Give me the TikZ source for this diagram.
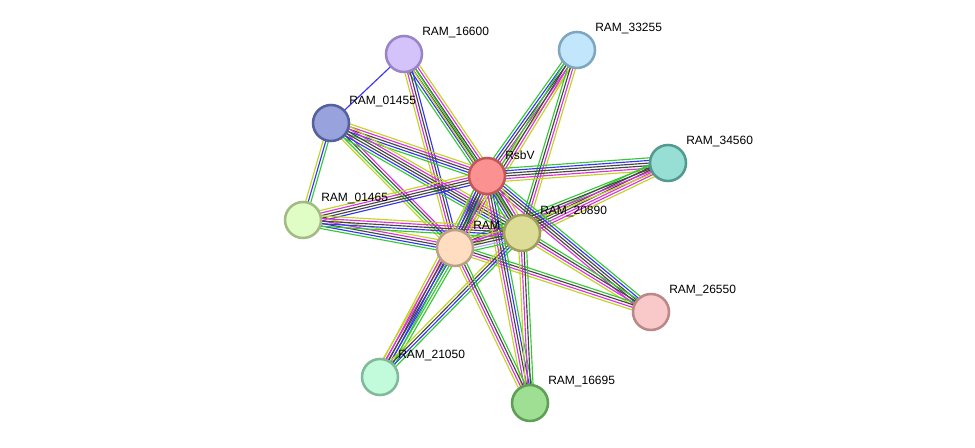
\documentclass[tikz,border=0pt]{standalone}
\usepackage{fontspec}
\setmainfont{Liberation Sans}
\usetikzlibrary{calc}
\pgfdeclarelayer{edges}
\pgfdeclarelayer{labels}
\pgfsetlayers{edges,labels,main}
\definecolor{eg}{HTML}{33C933}
\definecolor{eb}{HTML}{3535F5}
\definecolor{ek}{HTML}{454545}
\definecolor{em}{HTML}{DD30DD}
\definecolor{ey}{HTML}{C2D320}
\definecolor{el}{HTML}{A8A8FF}
\tikzset{
  prot/.style={circle,minimum size=27pt,inner sep=0pt,line width=1.9pt},
  plabel/.style={anchor=west,font=\fontsize{9pt}{10pt}\selectfont,inner sep=0pt,text=black},
  eline/.style={line width=0.85pt}
}
\newcommand\bund[3]{%
  \foreach \c [count=\i] in {#3} {\xdef\nb{\i}}%
  \foreach \c [count=\i] in {#3} {%
    \pgfmathsetmacro\o{(\i-(\nb+1)/2)*1.95}%
    \draw[eline,\c] ($(#1.center)!\o pt!90:(#2.center)$) -- ($(#2.center)!\o pt!-90:(#1.center)$);
  }%
}
\newcommand\prot[5]{% name, x, y, fill, border
  \definecolor{f#1}{HTML}{#4}\definecolor{d#1}{HTML}{#5}%
  \node[prot,fill=f#1,draw=d#1] (#1) at (#2,#3) {};
}
\begin{document}
\begin{tikzpicture}[x=0.75pt,y=-0.75pt]
\useasboundingbox (0,0) rectangle (975,448);
% nodes
\prot{p16600}{404}{54}{D4C2FB}{9A84C8}
\prot{p01455}{331}{123}{98A3DE}{56609C}
\prot{rsbv}{487}{176}{FC9191}{C05858}
\prot{p33255}{577}{50}{C2E6FC}{7FA6BE}
\prot{p34560}{668}{163}{97DFD5}{54998F}
\prot{p01465}{303}{220}{DFFDC4}{A2BB84}
\prot{pc}{455}{248}{FFDDC0}{BBA088}
\prot{p20890}{522}{233}{DEDD98}{A09E5C}
\prot{p26550}{651}{312}{F9C8C8}{BA8888}
\prot{p21050}{380}{377}{C2FBDB}{7FBB98}
\prot{p16695}{530}{403}{9EDF94}{5E9E55}
% labels
\begin{pgfonlayer}{labels}
\node[plabel] (l16600) at ($(p16600.center)+(18,-21)$) {RAM\_16600};
\node[plabel] (l01455) at ($(p01455.center)+(18,-21)$) {RAM\_01455};
\node[plabel] (lrsbv) at ($(rsbv.center)+(18,-21)$) {RsbV};
\node[plabel] (l33255) at ($(p33255.center)+(18,-21)$) {RAM\_33255};
\node[plabel] (l34560) at ($(p34560.center)+(18,-21)$) {RAM\_34560};
\node[plabel] (l01465) at ($(p01465.center)+(18,-21)$) {RAM\_01465};
\node[plabel] (lc) at ($(pc.center)+(18,-21)$) {RAM\_};
\node[plabel] (l20890) at ($(p20890.center)+(18,-21)$) {RAM\_20890};
\node[plabel] (l26550) at ($(p26550.center)+(18,-21)$) {RAM\_26550};
\node[plabel] (l21050) at ($(p21050.center)+(18,-21)$) {RAM\_21050};
\node[plabel] (l16695) at ($(p16695.center)+(18,-21)$) {RAM\_16695};
\end{pgfonlayer}
% edges
\begin{pgfonlayer}{edges}
\bund{p16600}{p01455}{eb}
\bund{p16600}{rsbv}{eg,eb,ek,ek,em,ey}
\bund{p16600}{pc}{ey,em,ek,eb}
\bund{p16600}{p20890}{ey,eg}
\bund{p01455}{rsbv}{eg,eb,ek,em,ey}
\bund{p01455}{pc}{ey,eg,ek,em}
\bund{p01455}{p20890}{eg,eb,ek,ek,em,ey}
\bund{p01455}{p01465}{ey,eb,eg}
\bund{p33255}{rsbv}{eg,eb,ek,em,ey}
\bund{p33255}{pc}{eg,ek,em,ey}
\bund{p33255}{p20890}{eg,ek,em,ey}
\bund{p34560}{rsbv}{eg,eb,ek,ek,em,ey}
\bund{p34560}{p20890}{eg,ek,ek,em,em,ey}
\bund{p34560}{pc}{eg,ek,em,ey}
\bund{p01465}{rsbv}{eb,ek,ek,em,ey}
\bund{p01465}{pc}{eg,eb,ek,em,ey}
\bund{p01465}{p20890}{eg,eb,ek,em,ey}
\bund{p26550}{rsbv}{eg,eb,ek,ek,em}
\bund{p26550}{p20890}{eg,ek,em,ey}
\bund{p26550}{pc}{eg,ek,em,ey}
\bund{p21050}{pc}{eg,eg,eb,ek,em,ey}
\bund{p21050}{rsbv}{eg,eb,ek,em,ey}
\bund{p21050}{p20890}{eg,eb,ek,ey}
\bund{p16695}{rsbv}{eg,eb,ek,em,ey}
\bund{p16695}{p20890}{eg,ek,em,ey}
\bund{p16695}{pc}{eg,ek,em,ey}
\bund{rsbv}{pc}{eg,eb,ek,ek,em,ey}
\bund{rsbv}{p20890}{eg,eb,ek,ek,em,ey}
\bund{pc}{p20890}{eg,el,ek,ek,em,ey}
\end{pgfonlayer}
\end{tikzpicture}
\end{document}
